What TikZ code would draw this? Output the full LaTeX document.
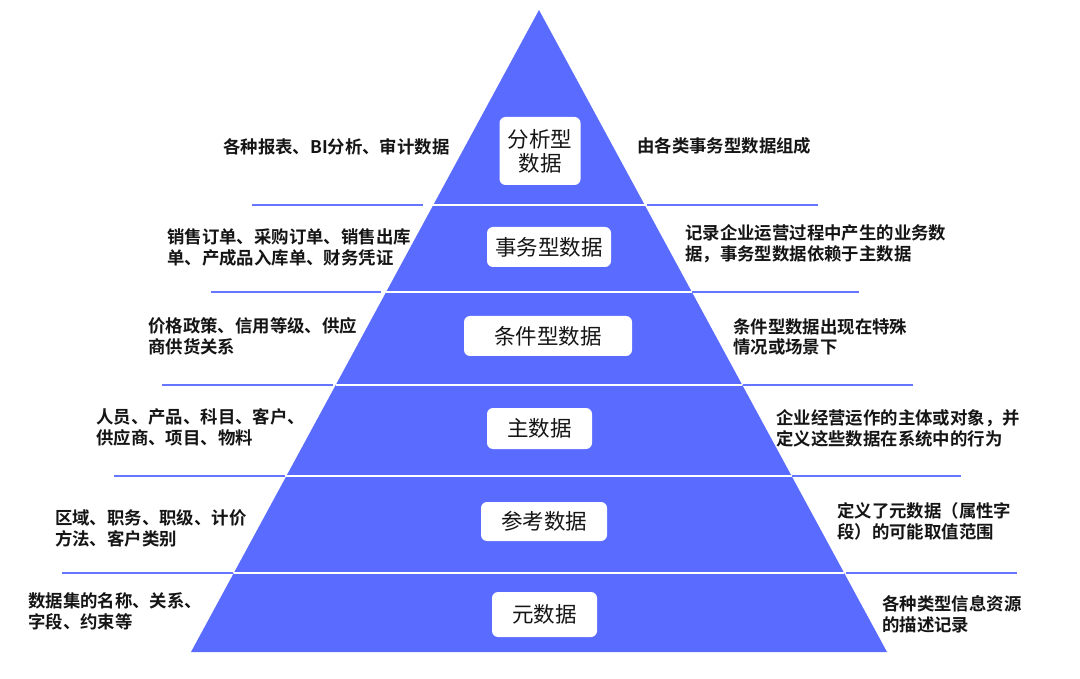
\documentclass[tikz,border=0pt]{standalone}
\usepackage{fontspec}
\newfontfamily\cjk{Noto Sans CJK SC}
\newfontfamily\cjkmed{Noto Sans CJK SC Bold}
\definecolor{pyrblue}{HTML}{5A6BFF}
\definecolor{lineblue}{HTML}{6676FF}
\definecolor{txt}{HTML}{151515}
\begin{document}
\begin{tikzpicture}[x=1pt,y=-1pt,
  sep/.style={white,line width=2pt},
  guide/.style={lineblue,line width=2pt},
  lvlbox/.style={fill=white,rounded corners=6pt,inner sep=0pt,align=center,
    font=\cjk\fontsize{21.5}{24}\selectfont,text=txt},
  lefttxt/.style={anchor=west,inner sep=0pt,align=left,
    font=\cjkmed\fontsize{17.4}{20.8}\selectfont,text=txt},
  righttxt/.style={anchor=west,inner sep=0pt,align=left,
    font=\cjkmed\fontsize{17.4}{20.8}\selectfont,text=txt}]
\useasboundingbox (0,0) rectangle (1080,679);
\fill[white] (0,0) rectangle (1080,679);
% pyramid
\coordinate (apex) at (539,10);
\coordinate (bl) at (191,652);
\coordinate (br) at (887,652);
\fill[pyrblue] (apex) -- (br) -- (bl) -- cycle;
% white separators inside pyramid
\draw[sep] (433.0,205.5) -- (645.0,205.5);
\draw[sep] (386.1,292) -- (691.9,292);
\draw[sep] (335.7,385) -- (742.3,385);
\draw[sep] (286.4,476) -- (791.6,476);
\draw[sep] (234.1,572.5) -- (843.9,572.5);
% blue guide lines outside
\draw[guide] (252,205.5) -- (423,205.5);
\draw[guide] (647,205.5) -- (818,205.5);
\draw[guide] (211,292) -- (381,292);
\draw[guide] (692,292) -- (859,292);
\draw[guide] (162,385) -- (333,385);
\draw[guide] (743,385) -- (913,385);
\draw[guide] (114,476) -- (285,476);
\draw[guide] (792,476) -- (961,476);
\draw[guide] (62,572.5) -- (233,572.5);
\draw[guide] (846,572.5) -- (1017,572.5);
% level boxes
\node[lvlbox,minimum width=81pt,minimum height=68pt] (b1) at (540,151) {分析型\\数据};
\node[lvlbox,minimum width=124pt,minimum height=40pt] (b2) at (549,247) {事务型数据};
\node[lvlbox,minimum width=168pt,minimum height=40pt] (b3) at (548,336) {条件型数据};
\node[lvlbox,minimum width=105pt,minimum height=41pt] (b4) at (539.5,428.5) {主数据};
\node[lvlbox,minimum width=126pt,minimum height=39pt] (b5) at (544,521.5) {参考数据};
\node[lvlbox,minimum width=105pt,minimum height=45pt] (b6) at (544.5,614.5) {元数据};
% left texts
\node[lefttxt] (l1) at (223,147) {各种报表、BI分析、审计数据};
\node[lefttxt] (l2) at (167,247.5) {销售订单、采购订单、销售出库\\单、产成品入库单、财务凭证};
\node[lefttxt] (l3) at (148,336.5) {价格政策、信用等级、供应\\商供货关系};
\node[lefttxt] (l4) at (96,427) {人员、产品、科目、客户、\\供应商、项目、物料};
\node[lefttxt] (l5) at (55,528) {区域、职务、职级、计价\\方法、客户类别};
\node[lefttxt] (l6) at (28,611.5) {数据集的名称、关系、\\字段、约束等};
% right texts
\node[righttxt] (r1) at (637,146) {由各类事务型数据组成};
\node[righttxt] (r2) at (685,244) {记录企业运营过程中产生的业务数\\据，事务型数据依赖于主数据};
\node[righttxt] (r3) at (733,337) {条件型数据出现在特殊\\情况或场景下};
\node[righttxt] (r4) at (776,428) {企业经营运作的主体或对象，并\\定义这些数据在系统中的行为};
\node[righttxt] (r5) at (837,521.5) {定义了元数据（属性字\\段）的可能取值范围};
\node[righttxt] (r6) at (882,614.5) {各种类型信息资源\\的描述记录};
\end{tikzpicture}
\end{document}
